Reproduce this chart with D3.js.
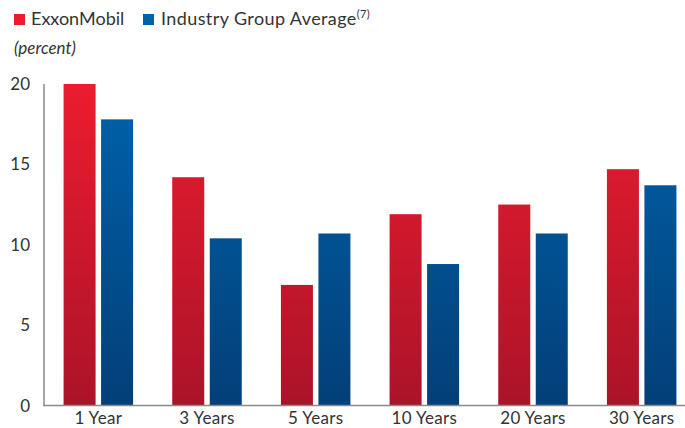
<!DOCTYPE html>
<html>
<head>
  <style>
    body { margin: 0; background: #fff; }
    text { font-family: Lato, "Open Sans", sans-serif; fill: #333; }
  </style>
</head>
<body>
  <script src="https://d3js.org/d3.v7.min.js"></script>
  <script>
    var categories = ["1 Year", "3 Years", "5 Years", "10 Years", "20 Years", "30 Years"];
    var exxon = [20.0, 14.2, 7.5, 11.9, 12.5, 14.7];
    var industry = [17.8, 10.4, 10.7, 8.8, 10.7, 13.7];
    var yTicks = [0, 5, 10, 15, 20];
    var seriesNames = ["ExxonMobil", "Industry Group Average"];

    var width = 685, height = 428;
    var svg = d3.select("body").append("svg")
        .attr("width", width)
        .attr("height", height);

    var x = d3.scaleBand().domain(categories).range([44, 696]);
    var y = d3.scaleLinear().domain([0, 20]).range([405.5, 84]);

    var defs = svg.append("defs");
    function grad(id, top, bottom) {
      var g = defs.append("linearGradient").attr("id", id)
          .attr("gradientUnits", "userSpaceOnUse")
          .attr("x1", 0).attr("x2", 0).attr("y1", y(20)).attr("y2", y(0));
      g.append("stop").attr("offset", 0).attr("stop-color", top);
      g.append("stop").attr("offset", 1).attr("stop-color", bottom);
    }
    grad("gRed", "#ec1c2f", "#ab1329");
    grad("gBlue", "#0062ab", "#033f78");

    var barW = 32, gap = 5.5;
    var series = [
      { values: exxon, fill: "url(#gRed)", dx: -gap / 2 - barW },
      { values: industry, fill: "url(#gBlue)", dx: gap / 2 }
    ];

    series.forEach(s => {
      svg.append("g").selectAll("rect")
          .data(s.values)
        .enter().append("rect")
          .attr("x", (d, i) => x(categories[i]) + x.bandwidth() / 2 + s.dx)
          .attr("y", d => y(d))
          .attr("width", barW)
          .attr("height", d => y(0) - y(d))
          .attr("fill", s.fill);
    });

    // axes
    svg.append("line")
        .attr("x1", 44).attr("x2", 44)
        .attr("y1", y(20)).attr("y2", y(0))
        .attr("stroke", "#8a8a8a").attr("stroke-width", 1.5);
    svg.append("line")
        .attr("x1", 43.25).attr("x2", 685)
        .attr("y1", y(0)).attr("y2", y(0))
        .attr("stroke", "#8a8a8a").attr("stroke-width", 1.5);

    svg.append("g").selectAll("text")
        .data(yTicks)
      .enter().append("text")
        .attr("x", 30)
        .attr("y", d => y(d) + 6)
        .attr("text-anchor", "end")
        .style("font-size", "17px")
        .text(d => d);

    svg.append("g").selectAll("text")
        .data(categories)
      .enter().append("text")
        .attr("x", d => x(d) + x.bandwidth() / 2)
        .attr("y", 424)
        .attr("text-anchor", "middle")
        .style("font-size", "17px")
        .style("letter-spacing", "0.3px")
        .text(d => d);

    // legend
    var legend = svg.append("g");
    legend.append("rect").attr("x", 14).attr("y", 14).attr("width", 11).attr("height", 11).attr("fill", "#ec1c2f");
    legend.append("text").attr("x", 31).attr("y", 25).style("font-size", "18px").text(seriesNames[0]);
    legend.append("rect").attr("x", 143).attr("y", 14).attr("width", 11).attr("height", 11).attr("fill", "#0062ab");
    var t2 = legend.append("text").attr("x", 161).attr("y", 25).style("font-size", "18px")
        .style("letter-spacing", "0.4px");
    t2.append("tspan").text(seriesNames[1]);
    t2.append("tspan").attr("dy", -7).style("font-size", "11px").text("(7)");

    svg.append("text")
        .attr("x", 14).attr("y", 54)
        .style("font-size", "17px")
        .style("font-style", "italic")
        .text("(percent)");
  </script>
</body>
</html>
